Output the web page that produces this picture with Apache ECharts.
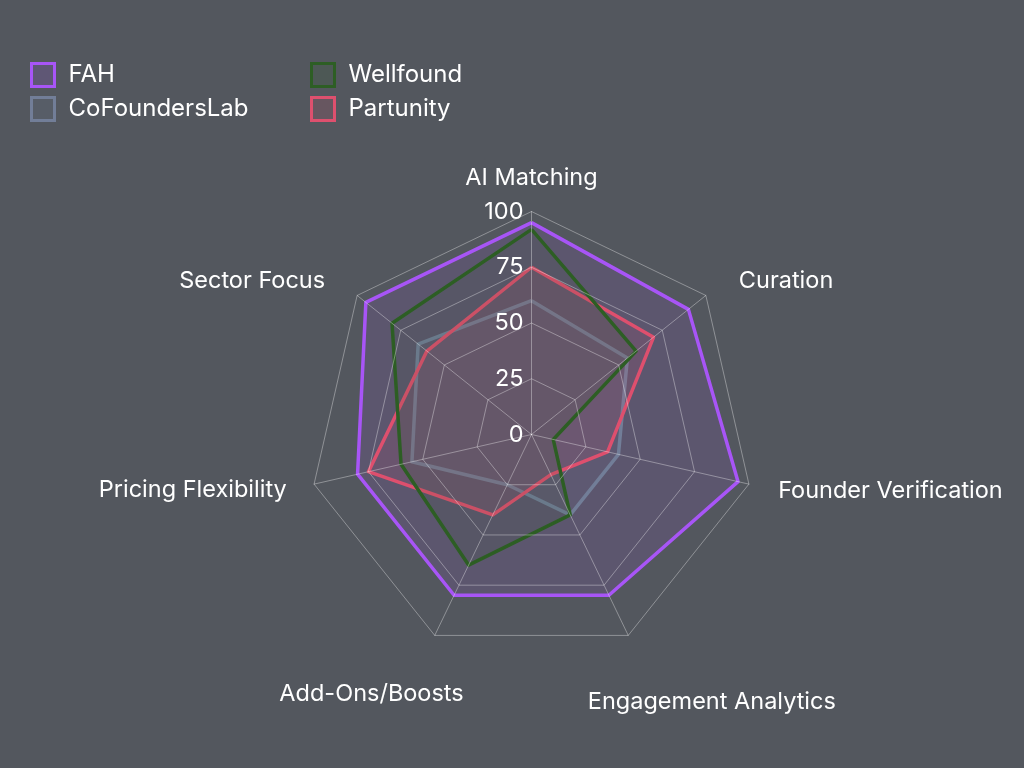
<!DOCTYPE html>
<html lang="en">
  <head>
    <meta charset="UTF-8" />
    <title>Platform comparison radar</title>
    <script src="https://cdn.jsdelivr.net/npm/echarts@6.0.0/dist/echarts.min.js"></script>
    <style>
      html, body { margin: 0; padding: 0; background: #53575e; }
    </style>
  </head>
  <body>
    <div id="main" style="width: 1024px; height: 768px"></div>
    <script type="text/javascript">
      // data, listed clockwise from the top
      const indicatorNames = [
        "AI Matching",
        "Curation",
        "Founder Verification",
        "Engagement Analytics",
        "Add-Ons/Boosts",
        "Pricing Flexibility",
        "Sector Focus",
      ];
      const seriesNames = ["FAH", "CoFoundersLab", "Partunity", "Wellfound"];
      const fahValues = [95, 90, 95, 80, 80, 80, 95];
      const coFoundersLabValues = [60, 55, 40, 40, 25, 55, 65];
      const partunityValues = [75, 70, 35, 20, 40, 75, 60];
      const wellfoundValues = [92, 60, 10, 40, 65, 60, 80];
      const axisMax = 100;

      const colors = {
        FAH: "#a855f7",
        CoFoundersLab: "#727e98",
        Partunity: "#de506e",
        Wellfound: "#2d5e24",
      };
      const valuesByName = {
        FAH: fahValues,
        CoFoundersLab: coFoundersLabValues,
        Partunity: partunityValues,
        Wellfound: wellfoundValues,
      };

      const font = "Inter, 'Noto Sans', sans-serif";

      // name placement per indicator (gap from the outer ring, alignment, nudge)
      const nameLayout = [
        { gap: 34, align: "center", padding: [0, 0, 0, 0] },
        { gap: 23, align: "left", padding: [0, 0, 0, 15] },
        { gap: 30, align: "left", padding: [0, 0, 0, 0] },
        { gap: 74, align: "center", padding: [0, 0, 0, 103] },
        { gap: 65, align: "center", padding: [0, 70, 0, 0] },
        { gap: 28, align: "right", padding: [0, 0, 0, 0] },
        { gap: 23, align: "right", padding: [0, 14, 0, 0] },
      ];

      // echarts lays radar axes out counter-clockwise, so walk the list backwards
      const order = indicatorNames.map((_, i) => (indicatorNames.length - i) % indicatorNames.length);
      const reorder = (arr) => order.map((i) => arr[i]);

      const indicators = order.map((i) => ({
        name: indicatorNames[i],
        min: 0,
        max: axisMax,
        nameGap: nameLayout[i].gap,
        nameTextStyle: {
          align: nameLayout[i].align,
          verticalAlign: "middle",
          padding: nameLayout[i].padding,
        },
        axisLabel: { show: i === 0 },
      }));

      function hexToRgba(hex, a) {
        const n = parseInt(hex.slice(1), 16);
        return "rgba(" + (n >> 16) + "," + ((n >> 8) & 255) + "," + (n & 255) + "," + a + ")";
      }

      function legendItem(name) {
        return {
          name: name,
          icon: "rect",
          itemStyle: {
            color: hexToRgba(colors[name], 0.15),
            borderColor: colors[name],
            borderWidth: 3,
          },
        };
      }

      const legendBase = {
        orient: "vertical",
        top: 62,
        padding: 0,
        itemWidth: 23,
        itemHeight: 23,
        itemGap: 8,
        textStyle: {
          color: "#ffffff",
          fontSize: 24,
          lineHeight: 23,
          fontFamily: font,
          padding: [0, 0, 0, 9],
        },
      };

      let myChart = echarts.init(document.getElementById("main"));
      let options = {
        backgroundColor: "#53575e",
        animation: false,
        legend: [
          Object.assign({}, legendBase, {
            left: 30,
            data: [legendItem("FAH"), legendItem("CoFoundersLab")],
          }),
          Object.assign({}, legendBase, {
            left: 310,
            data: [legendItem("Wellfound"), legendItem("Partunity")],
          }),
        ],
        radar: {
          z: 3,
          center: [531.5, 434.5],
          radius: 223,
          shape: "polygon",
          splitNumber: 4,
          startAngle: 90,
          indicator: indicators,
          axisName: {
            color: "#ffffff",
            fontSize: 23.5,
            fontFamily: font,
          },
          axisLabel: {
            show: false,
            color: "#ffffff",
            fontSize: 23.5,
            fontFamily: font,
            margin: 8,
          },
          axisTick: { show: false },
          axisLine: { lineStyle: { color: "rgba(255,255,255,0.35)", width: 1 } },
          splitLine: { lineStyle: { color: "rgba(255,255,255,0.35)", width: 1 } },
          splitArea: { show: false },
        },
        series: [
          {
            type: "radar",
            symbol: "none",
            data: seriesNames.map((name) => ({
              name: name,
              value: reorder(valuesByName[name]),
              lineStyle: { color: colors[name], width: 3.5 },
              itemStyle: { color: colors[name] },
              areaStyle: { color: hexToRgba(colors[name], 0.15) },
            })),
          },
        ],
      };
      myChart.setOption(options);
    </script>
  </body>
</html>
